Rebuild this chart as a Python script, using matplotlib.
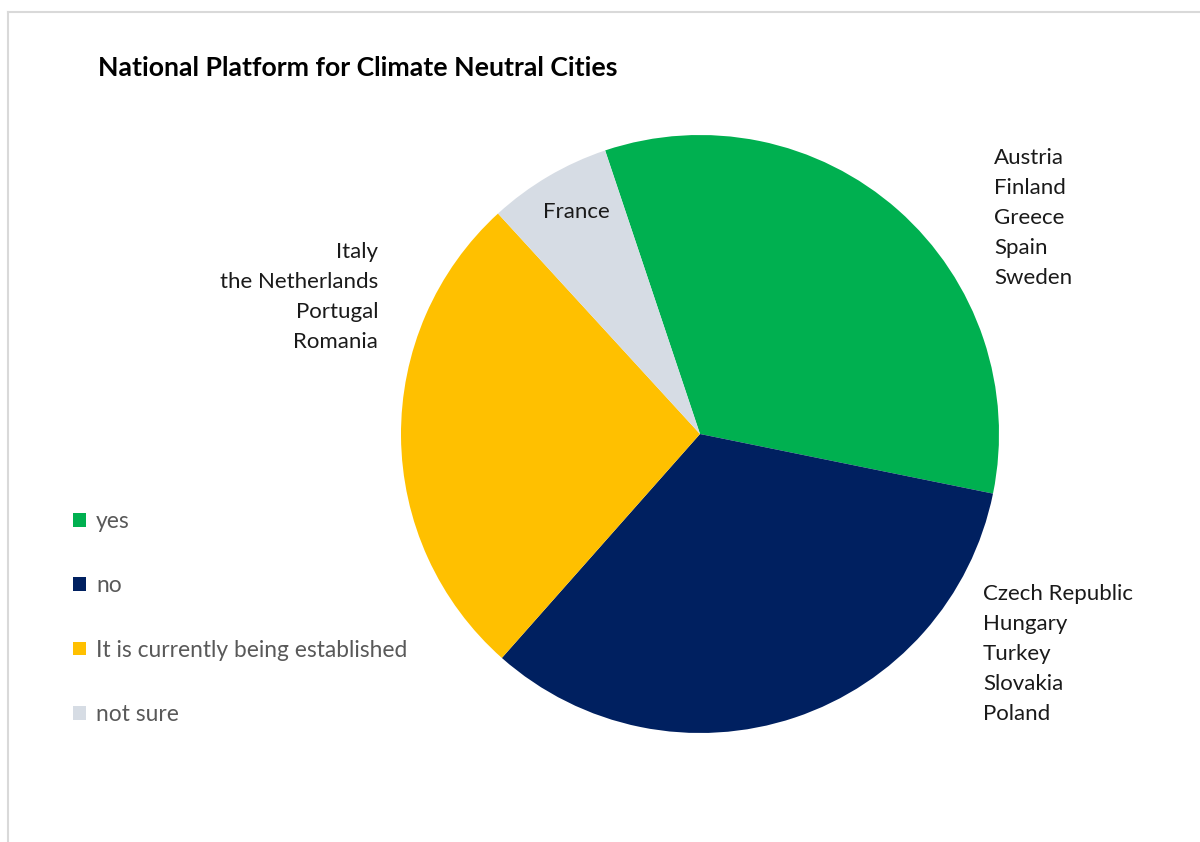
import matplotlib.pyplot as plt
from matplotlib.lines import Line2D
from matplotlib.patches import Patch

plt.rcParams['font.family'] = ['Lato', 'DejaVu Sans']

# data
answers = ['yes', 'no', 'It is currently being established', 'not sure']
counts = [5, 5, 4, 1]
colors = ['#00B050', '#002060', '#FFC000', '#D6DCE4']
yes_countries = ['Austria', 'Finland', 'Greece', 'Spain', 'Sweden']
no_countries = ['Czech Republic', 'Hungary', 'Turkey', 'Slovakia', 'Poland']
est_countries = ['Italy', 'the Netherlands', 'Portugal', 'Romania']
unsure_countries = ['France']

W, H = 1200, 842
fig = plt.figure(figsize=(12, 8.42), dpi=100)

# chart-area border (light grey, left + top only visible)
fig.add_artist(Line2D([8 / W, 8 / W], [0, 1 - 12 / H], color='#D9D9D9', lw=1.5))
fig.add_artist(Line2D([8 / W, 1], [1 - 12 / H, 1 - 12 / H], color='#D9D9D9', lw=1.5))

# pie: centre ~ (700, 434) px, radius ~ 299 px
r = 299
ax = fig.add_axes([(700 - r) / W, (H - 434 - r) / H, 2 * r / W, 2 * r / H])
wedges, _ = ax.pie(counts, colors=colors, startangle=108.5, counterclock=False,
                   radius=1, wedgeprops=dict(linewidth=0))
ax.set_xlim(-1, 1)
ax.set_ylim(-1, 1)
ax.set_aspect('equal')
ax.axis('off')

fig.text(98 / W, 1 - 68 / H, 'National Platform for Climate Neutral Cities',
         fontsize=19.2, fontweight='bold', color='black', va='center', ha='left')


def put_lines(names, x, y0, ha):
    for i, name in enumerate(names):
        fig.text(x / W, 1 - (y0 + 30 * i) / H, name, fontsize=16, color='#1A1A1A',
                 ha=ha, va='center')


put_lines(yes_countries, 994, 158, 'left')
put_lines(no_countries, 983, 594, 'left')
put_lines(est_countries, 378, 252, 'right')
put_lines(unsure_countries, 576, 212, 'center')

handles = [Patch(facecolor=c, edgecolor='none') for c in colors]
leg = fig.legend(handles, answers, loc='upper left', bbox_to_anchor=(64 / W, 1 - 502 / H),
                 frameon=False, fontsize=16.4, labelspacing=1.9, handlelength=0.55,
                 handleheight=0.55, handletextpad=0.45, borderaxespad=0)
for t in leg.get_texts():
    t.set_color('#595959')

fig.savefig('out.png', dpi=100, facecolor='white')
